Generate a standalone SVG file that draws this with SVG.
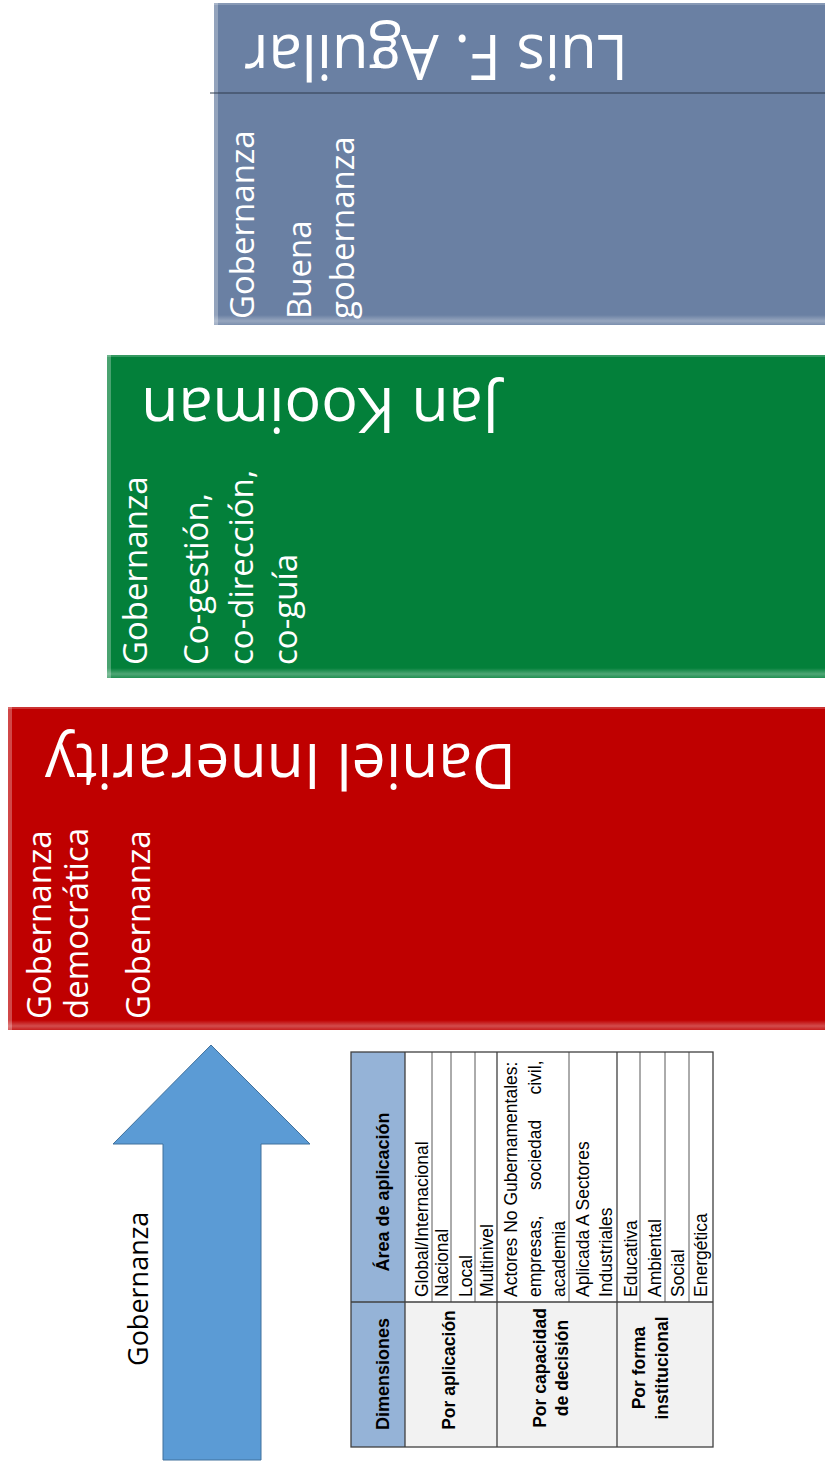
<svg xmlns="http://www.w3.org/2000/svg" width="825" height="1462" viewBox="0 0 825 1462">
<style>
.box-text{font-family:"Open Sans","Noto Sans","DejaVu Sans",sans-serif;font-size:33px;fill:#ffffff}
.title{font-family:"Open Sans","Noto Sans","DejaVu Sans",sans-serif;font-size:63px;fill:#ffffff}
.arrow-label{font-family:"Open Sans","Noto Sans","DejaVu Sans",sans-serif;font-size:27px;fill:#000000}
.tt{font-family:"Liberation Sans",Arial,sans-serif;font-size:17.5px;fill:#000000}
.tb{font-family:"Liberation Sans",Arial,sans-serif;font-size:17.5px;font-weight:bold;fill:#000000;text-anchor:middle}
.th{font-family:"Liberation Sans",Arial,sans-serif;font-size:18px;font-weight:bold;fill:#000000;text-anchor:middle}
.grid{stroke:#595959;stroke-width:1;fill:none}
.grid-strong{stroke:#404040;stroke-width:1.3;fill:none}
.bevel-left{fill:#ffffff;fill-opacity:0.28}
.bevel-top{fill:#ffffff;fill-opacity:0.2}
</style>
<defs>
<linearGradient id="bevelBottom" x1="0" y1="0" x2="0" y2="1">
<stop offset="0" stop-color="#ffffff" stop-opacity="0"/>
<stop offset="0.6" stop-color="#ffffff" stop-opacity="0.3"/>
<stop offset="1" stop-color="#ffffff" stop-opacity="0.12"/>
</linearGradient>
</defs>
<rect width="825" height="1462" fill="#ffffff"/>

<g id="node-aguilar">
<rect x="214" y="3" width="615" height="322" fill="#6A80A3"/>
<rect class="bevel-top" x="214" y="3" width="615" height="2"/>
<rect class="bevel-left" x="214" y="3" width="4" height="322"/>
<rect x="214" y="315" width="615" height="10" fill="url(#bevelBottom)"/>
<line x1="210" y1="93" x2="825" y2="93" stroke="#2F3B4C" stroke-width="1"/>
<text class="title" transform="translate(628,35) rotate(180)" textLength="384" lengthAdjust="spacingAndGlyphs">Luis F. Aguilar</text>
<g transform="rotate(-90)">
<text class="box-text" x="-319" y="254">Gobernanza</text>
<text class="box-text" x="-319" y="311">Buena</text>
<text class="box-text" x="-319" y="354">gobernanza</text>
</g>
</g>

<g id="node-kooiman">
<rect x="107" y="355" width="720" height="323" fill="#03803A"/>
<rect class="bevel-top" x="107" y="355" width="720" height="2"/>
<rect class="bevel-left" x="107" y="355" width="4" height="323"/>
<rect x="107" y="668" width="720" height="10" fill="url(#bevelBottom)"/>
<text class="title" transform="translate(499,388) rotate(180)" textLength="358" lengthAdjust="spacingAndGlyphs">Jan Kooiman</text>
<g transform="rotate(-90)">
<text class="box-text" x="-665" y="147">Gobernanza</text>
<text class="box-text" x="-665" y="208">Co-gestión,</text>
<text class="box-text" x="-665" y="253">co-dirección,</text>
<text class="box-text" x="-665" y="297">co-guía</text>
</g>
</g>

<g id="node-innerarity">
<rect x="8" y="707" width="820" height="323" fill="#BF0000"/>
<rect class="bevel-top" x="8" y="707" width="820" height="2"/>
<rect class="bevel-left" x="8" y="707" width="4" height="323"/>
<rect x="8" y="1020" width="820" height="10" fill="url(#bevelBottom)"/>
<text class="title" transform="translate(516,744) rotate(180)" textLength="471" lengthAdjust="spacingAndGlyphs">Daniel Innerarity</text>
<g transform="rotate(-90)">
<text class="box-text" x="-1019" y="51">Gobernanza</text>
<text class="box-text" x="-1019" y="88">democrática</text>
<text class="box-text" x="-1019" y="150">Gobernanza</text>
</g>
</g>

<g id="connectors">
<g id="arrow-gobernanza">
<polygon points="211,1045 310,1144 261,1144 261,1460 163,1460 163,1144 113,1144" fill="#5B9BD5" stroke="#41719C" stroke-width="1"/>
<text class="arrow-label" transform="translate(148,1366) rotate(-90)">Gobernanza</text>
</g>
</g>

<g id="node-table">
<rect x="351" y="1052" width="54" height="395" fill="#95B3D7"/>
<rect x="405" y="1302" width="308" height="145" fill="#F2F2F2"/>
<rect x="405" y="1052" width="308" height="250" fill="#ffffff"/>
<g class="grid">
<line x1="432" y1="1052" x2="432" y2="1302"/>
<line x1="451" y1="1052" x2="451" y2="1302"/>
<line x1="475" y1="1052" x2="475" y2="1302"/>
<line x1="569" y1="1052" x2="569" y2="1302"/>
<line x1="640" y1="1052" x2="640" y2="1302"/>
<line x1="665" y1="1052" x2="665" y2="1302"/>
<line x1="689" y1="1052" x2="689" y2="1302"/>
</g>
<g class="grid-strong">
<line x1="405" y1="1052" x2="405" y2="1447"/>
<line x1="497" y1="1052" x2="497" y2="1447"/>
<line x1="617" y1="1052" x2="617" y2="1447"/>
<line x1="351" y1="1302" x2="713" y2="1302"/>
<rect x="351" y="1052" width="362" height="395"/>
</g>
<g transform="rotate(-90)">
<text class="th" x="-1374" y="389">Dimensiones</text>
<text class="th" x="-1192" y="389">Área de aplicación</text>
<text class="tb" x="-1370" y="455">Por aplicación</text>
<text class="tb" x="-1368" y="546">Por capacidad</text>
<text class="tb" x="-1368" y="568">de decisión</text>
<text class="tb" x="-1368" y="645">Por forma</text>
<text class="tb" x="-1368" y="668">institucional</text>
<text class="tt" x="-1297" y="428">Global/Internacional</text>
<text class="tt" x="-1297" y="448">Nacional</text>
<text class="tt" x="-1297" y="472">Local</text>
<text class="tt" x="-1297" y="493">Multinivel</text>
<text class="tt" x="-1297" y="517">Actores No Gubernamentales:</text>
<text class="tt" x="-1297" y="541" word-spacing="20.5">empresas, sociedad civil,</text>
<text class="tt" x="-1297" y="565">academia</text>
<text class="tt" x="-1297" y="589">Aplicada A Sectores</text>
<text class="tt" x="-1297" y="612">Industriales</text>
<text class="tt" x="-1297" y="637">Educativa</text>
<text class="tt" x="-1297" y="661">Ambiental</text>
<text class="tt" x="-1297" y="684">Social</text>
<text class="tt" x="-1297" y="707">Energética</text>
</g>
</g>
</svg>
